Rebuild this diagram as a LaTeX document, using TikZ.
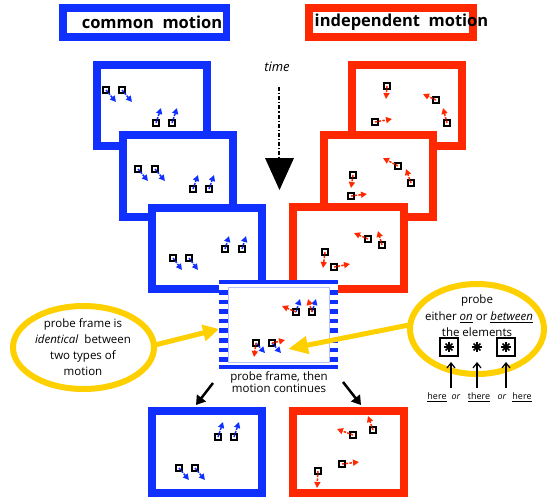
\documentclass[tikz,border=0pt]{standalone}
\usepackage{fontspec}
\setmainfont{Open Sans}
\usetikzlibrary{arrows.meta,shapes.geometric}
\definecolor{bluec}{RGB}{16,48,255}
\definecolor{redc}{RGB}{255,40,0}
\definecolor{yellowc}{RGB}{255,208,0}
\newcommand\sqn[3]{\node[sq] (#1) at (#2,#3) {};}
\newcommand\mvr[4]{\draw[mv,#2] (#1.center) -- ++(#3,#4);}
\newcommand\astr[1]{\foreach \a in {0,45,90,135} {\draw[line width=1.7pt,shift={(#1)}] (\a:4.8) -- (\a+180:4.8);}}
\begin{document}
\begin{tikzpicture}[x=1pt,y=-1pt,
  frameb/.style={draw=bluec,line width=8pt,fill=white},
  framer/.style={draw=redc,line width=8pt,fill=white},
  sq/.style={draw=black,fill=white,line width=2pt,minimum size=6.5pt,inner sep=0pt},
  mv/.style={line width=1.5pt,dash pattern=on 2.5pt off 1.2pt,-{Triangle[length=6pt,width=6pt]}},
  hdr/.style={font=\fontsize{16.5}{18}\selectfont\bfseries,inner sep=0pt},
  txt/.style={font=\fontsize{11.5}{16}\selectfont,align=center,inner sep=0pt},
  sml/.style={font=\fontsize{9}{10}\selectfont,inner sep=0pt},
  yarr/.style={draw=yellowc,line width=5pt,-{Triangle[length=16pt,width=16pt]}},
  barr/.style={draw=black,line width=2.5pt,-{Triangle[length=9pt,width=11pt]}},
  uparr/.style={draw=black,line width=1.2pt,-{Straight Barb[length=5pt,width=8pt]}},
  bxs/.style={draw=black,line width=2.5pt,minimum size=18pt,inner sep=0pt},
  ell/.style={ellipse,draw=yellowc,fill=white,line width=6pt,inner sep=0pt}]
\useasboundingbox (0,0) rectangle (548,500);
% headers
\fill[bluec] (59,4) rectangle (230,41);
\fill[white] (67,12) rectangle (223,33);
\node[hdr] (hc) at (152,22) {common\ \ motion};
\fill[redc] (305,4) rectangle (477,41);
\fill[white] (313,12) rectangle (469,33);
\node[hdr] (hi) at (401.5,22) {independent\ \ motion};
% time
\node[font=\fontsize{13}{15}\selectfont\itshape,inner sep=0pt] (time) at (277,67) {time};
\coordinate (t1) at (279,87);
\coordinate (t2) at (279,160);
\draw[line width=1.3pt,dash pattern=on 4pt off 2pt on 1.2pt off 2pt] (t1) -- (t2);
\fill (265,158) -- (294,158) -- (279.5,190) -- cycle;
% blue frames
\draw[frameb] (97,65) rectangle (207,146);
\sqn{b1a}{106}{90}\sqn{b1b}{122}{90}\sqn{b1c}{156}{123}\sqn{b1d}{172}{123}
\mvr{b1a}{bluec}{10}{12}\mvr{b1b}{bluec}{10}{12}\mvr{b1c}{bluec}{5}{-15}\mvr{b1d}{bluec}{5}{-15}
\draw[frameb] (123,135) rectangle (233,217);
\sqn{b2a}{138}{169}\sqn{b2b}{155}{169}\sqn{b2c}{193}{189}\sqn{b2d}{209}{189}
\mvr{b2a}{bluec}{10}{12}\mvr{b2b}{bluec}{10}{12}\mvr{b2c}{bluec}{5}{-14}\mvr{b2d}{bluec}{5}{-14}
\draw[frameb] (152,208) rectangle (262,289);
\sqn{b3a}{173}{258}\sqn{b3b}{189}{258}\sqn{b3c}{225}{249}\sqn{b3d}{242}{249}
\mvr{b3a}{bluec}{9}{12}\mvr{b3b}{bluec}{9}{12}\mvr{b3c}{bluec}{4}{-13}\mvr{b3d}{bluec}{4}{-13}
% red frames
\draw[framer] (352,65) rectangle (462,146);
\sqn{r1a}{387}{86}\sqn{r1b}{436}{100}\sqn{r1c}{447}{123}\sqn{r1d}{375}{122}
\mvr{r1a}{redc}{-1}{13}\mvr{r1b}{redc}{-13}{-6}\mvr{r1c}{redc}{-4}{-15}\mvr{r1d}{redc}{17}{-3}
\draw[framer] (324,135) rectangle (433,217);
\sqn{r2a}{353}{175}\sqn{r2b}{351}{196}\sqn{r2c}{398}{166}\sqn{r2d}{411}{183}
\mvr{r2a}{redc}{-2}{13}\mvr{r2b}{redc}{16}{-2}\mvr{r2c}{redc}{-15}{-8}\mvr{r2d}{redc}{-5}{-14}
\draw[framer] (293,207) rectangle (404,289);
\sqn{r3a}{325}{252}\sqn{r3b}{334}{267}\sqn{r3c}{368}{239}\sqn{r3d}{382}{245}
\mvr{r3a}{redc}{-2}{16}\mvr{r3b}{redc}{16}{-3}\mvr{r3c}{redc}{-14}{-6}\mvr{r3d}{redc}{-4}{-14}
% probe frame
\node[fill=white,minimum width=119pt,minimum height=90pt,inner sep=0pt] (pf) at (278.5,325) {};
\draw[bluec,line width=4pt] (219,282) -- (338,282);
\draw[bluec,line width=4pt] (219,367) -- (338,367);
\foreach \i in {0,...,7} {
  \fill[bluec] (219,290+9.6*\i) rectangle (228,294.5+9.6*\i);
  \fill[bluec] (329,290+9.6*\i) rectangle (338,294.5+9.6*\i);
}
\draw[bluec!30,line width=0.6pt] (228,287) rectangle (329,362);
\sqn{p1}{296}{312}\sqn{p2}{312}{312}\sqn{p3}{256}{343}\sqn{p4}{272}{343}
\mvr{p1}{bluec}{4}{-13}\mvr{p2}{bluec}{4}{-13}\mvr{p1}{redc}{-14}{-6}\mvr{p2}{redc}{-4}{-13}
\mvr{p3}{bluec}{9}{10}\mvr{p4}{bluec}{9}{10}\mvr{p3}{redc}{-2}{14}\mvr{p4}{redc}{13}{-3}
\node[txt,font=\fontsize{11.5}{11}\selectfont] (pft) at (279,382) {probe frame, then\\motion continues};
% bottom frames
\draw[frameb] (152,411) rectangle (262,493);
\sqn{bb1}{218}{437}\sqn{bb2}{234}{437}\sqn{bb3}{179}{468}\sqn{bb4}{195}{468}
\mvr{bb1}{bluec}{5}{-15}\mvr{bb2}{bluec}{5}{-15}\mvr{bb3}{bluec}{10}{12}\mvr{bb4}{bluec}{10}{12}
\draw[framer] (293,411) rectangle (404,493);
\sqn{rb1}{353}{435}\sqn{rb2}{373}{430}\sqn{rb3}{342}{464}\sqn{rb4}{318}{471}
\mvr{rb1}{redc}{-16}{-6}\mvr{rb2}{redc}{-5}{-14}\mvr{rb3}{redc}{17}{-2}\mvr{rb4}{redc}{-1}{17}
\coordinate (la1) at (213,383);
\coordinate (la2) at (196,405);
\coordinate (ra1) at (343,382);
\coordinate (ra2) at (361,405);
\draw[barr] (la1) -- (la2);
\draw[barr] (ra1) -- (ra2);
% left ellipse
\node[ell,minimum width=141pt,minimum height=83pt] (ellL) at (83.5,347.5) {};
\node[txt] (lt) at (83,347) {probe frame is\\\textit{identical}\ \ between\\two types of\\motion};
\coordinate (yl1) at (155,345);
\coordinate (yl2) at (219,329);
\draw[yarr] (yl1) -- (yl2);
% right ellipse
\node[ell,minimum width=134pt,minimum height=90pt] (ellR) at (477,329) {};
\node[txt] (pr1) at (477,301) {probe};
\node[txt] (pr2) at (479,317) {either \underline{\textit{on}} or \underline{\textit{between}}};
\node[txt] (pr3) at (477,332) {the elements};
\node[bxs] (s1) at (449,347) {};
\coordinate (s2) at (477,347);
\node[bxs] (s3) at (506,347) {};
\astr{s1}\astr{s2}\astr{s3}
\coordinate (u1) at (451,388);\coordinate (v1) at (451,362);
\coordinate (u2) at (477,388);\coordinate (v2) at (477,362);
\coordinate (u3) at (506,388);\coordinate (v3) at (506,362);
\draw[uparr] (u1) -- (v1);
\draw[uparr] (u2) -- (v2);
\draw[uparr] (u3) -- (v3);
\node[sml] (h1) at (437,397) {\underline{here}};
\node[sml] (o1) at (456,397) {\textit{or}};
\node[sml] (h2) at (479,397) {\underline{there}};
\node[sml] (o2) at (502,397) {\textit{or}};
\node[sml] (h3) at (522,397) {\underline{here}};
\coordinate (yr1) at (409,325);
\coordinate (yr2) at (288,349);
\draw[yarr,-{Triangle[length=20pt,width=17pt]}] (yr1) -- (yr2);
\end{tikzpicture}
\end{document}
